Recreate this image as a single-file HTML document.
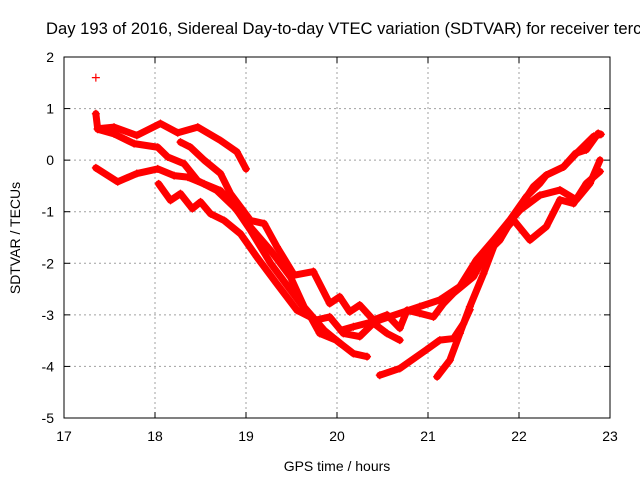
<!DOCTYPE html>
<html><head><meta charset="utf-8">
<style>
body{margin:0;background:#fff;overflow:hidden;}
svg{display:block;font-family:"Liberation Sans",sans-serif;}
</style></head>
<body>
<svg id="chart" width="640" height="480" viewBox="0 0 640 480">
<text x="46" y="34" font-size="16.6" fill="#000">Day 193 of 2016, Sidereal Day-to-day VTEC variation (SDTVAR) for receiver terc</text>
<g id="grid"></g>
<g id="axes"></g>
<g id="series"></g>
<text x="337" y="471" font-size="14" text-anchor="middle">GPS time / hours</text>
<text transform="translate(20,238) rotate(-90)" font-size="14" text-anchor="middle">SDTVAR / TECUs</text>
</svg>
<script>
const xTicks=[17,18,19,20,21,22,23];
const yTicks=[2,1,0,-1,-2,-3,-4,-5];
const outlier=[[17.35,1.6]];
const seriesA=[[17.35,0.9],[17.37,0.61],[17.55,0.64],[17.8,0.48],[18.06,0.71],[18.25,0.53],[18.47,0.64],[18.72,0.38],[18.9,0.16],[19.0,-0.17]];
const seriesB=[[17.37,0.6],[17.55,0.51],[17.77,0.32],[18.03,0.25],[18.14,0.06],[18.32,-0.07],[18.47,-0.4],[18.68,-0.59],[18.87,-0.91],[19.05,-1.3],[19.27,-1.75],[19.49,-2.27],[19.64,-2.85],[19.86,-3.3],[20.04,-3.56]];
const seriesC=[[17.35,-0.15],[17.59,-0.42],[17.8,-0.26],[18.03,-0.17],[18.21,-0.3],[18.36,-0.33],[18.54,-0.46],[18.72,-0.59],[18.9,-0.97],[19.05,-1.36],[19.27,-2.0],[19.49,-2.52],[19.71,-3.04],[19.81,-3.36],[19.99,-3.49],[20.18,-3.75],[20.33,-3.81]];
const seriesD=[[18.04,-0.46],[18.17,-0.78],[18.28,-0.65],[18.41,-0.94],[18.5,-0.81],[18.61,-1.04],[18.76,-1.17],[18.94,-1.43],[19.12,-1.88],[19.34,-2.4],[19.56,-2.91],[19.77,-3.1],[19.92,-3.04],[20.07,-3.36],[20.25,-3.42],[20.4,-3.16],[20.55,-3.36],[20.69,-3.49]];
const seriesE=[[18.28,0.35],[18.39,0.25],[18.54,0.0],[18.72,-0.26],[18.83,-0.65],[19.05,-1.17],[19.2,-1.23],[19.34,-1.68],[19.53,-2.23],[19.74,-2.16],[19.92,-2.78],[20.03,-2.65],[20.14,-2.94],[20.25,-2.81],[20.4,-3.1],[20.55,-3.0],[20.69,-3.26],[20.77,-2.91],[20.91,-2.97],[21.06,-3.04],[21.17,-2.78],[21.28,-2.58],[21.5,-2.26],[21.64,-1.81],[21.79,-1.55],[21.94,-1.1],[22.16,-0.51],[22.3,-0.29],[22.49,-0.13],[22.63,0.13],[22.82,0.46],[22.9,0.5]];
const seriesF=[[20.47,-4.17],[20.69,-4.04],[20.98,-3.68],[21.13,-3.49],[21.28,-3.46],[21.39,-3.17],[21.46,-2.9]];
const seriesG=[[21.1,-4.2],[21.24,-3.88],[21.35,-3.36],[21.46,-2.84],[21.61,-2.2],[21.75,-1.55],[21.94,-1.16],[22.12,-1.55],[22.3,-1.29],[22.45,-0.77],[22.6,-0.84],[22.74,-0.45],[22.89,-0.22]];
const seriesH=[[20.04,-3.3],[20.18,-3.23],[20.47,-3.1],[20.91,-2.84],[21.13,-2.71],[21.35,-2.45],[21.53,-1.94],[21.72,-1.55],[21.9,-1.16],[22.08,-0.71],[22.23,-0.45],[22.3,-0.29],[22.49,-0.13],[22.62,0.13],[22.74,0.2],[22.87,0.52]];
const seriesI=[[21.79,-1.42],[22.01,-0.97],[22.23,-0.68],[22.45,-0.58],[22.63,-0.77],[22.78,-0.45],[22.89,0.0]];
const allSeries=[seriesA,seriesB,seriesC,seriesD,seriesE,seriesF,seriesG,seriesH,seriesI];

const NS="http://www.w3.org/2000/svg";
const X0=64,X1=610,Y0=418,Y1=57;
const sx=v=>X0+(v-17)/6*(X1-X0);
const sy=v=>Y0-(v+5)/7*(Y0-Y1);
function mk(tag,attrs,parent){const e=document.createElementNS(NS,tag);for(const k in attrs)e.setAttribute(k,attrs[k]);parent.appendChild(e);return e;}
const grid=document.getElementById('grid'),axes=document.getElementById('axes'),ser=document.getElementById('series');
xTicks.forEach(t=>{
  if(t>17&&t<23){const l=mk('line',{x1:sx(t),x2:sx(t),y1:Y1,y2:Y0,stroke:'#a0a0a0','stroke-dasharray':'2,3'},grid);
  
  }
  const tx=mk('text',{x:sx(t),y:Y0+23,'font-size':14,'text-anchor':'middle'},axes);tx.textContent=t;
  
  
  mk('line',{x1:sx(t),x2:sx(t),y1:Y0,y2:Y0-6,stroke:'#000'},axes);
  mk('line',{x1:sx(t),x2:sx(t),y1:Y1,y2:Y1+6,stroke:'#000'},axes);
});
yTicks.forEach(t=>{
  if(t<2&&t>-5){const l=mk('line',{x1:X0,x2:X1,y1:sy(t),y2:sy(t),stroke:'#a0a0a0','stroke-dasharray':'2,3'},grid);
  
  }
  const tx=mk('text',{x:X0-10,y:sy(t)+5,'font-size':14,'text-anchor':'end'},axes);tx.textContent=t;
  
  
  mk('line',{x1:X0,x2:X0+6,y1:sy(t),y2:sy(t),stroke:'#000'},axes);
  mk('line',{x1:X1,x2:X1-6,y1:sy(t),y2:sy(t),stroke:'#000'},axes);
});
const fr=mk('rect',{x:X0,y:Y1,width:X1-X0,height:Y0-Y1,fill:'none',stroke:'#000'},axes);


function plus(x,y,g){mk('path',{d:`M${x-4},${y}h8M${x},${y-4}v8`,stroke:'#f00','stroke-width':1.2},g);}
allSeries.forEach((s,i)=>{
  const g=mk('g',{},ser);
  
  
  mk('polyline',{points:s.map(p=>sx(p[0])+','+sy(p[1])).join(' '),fill:'none',stroke:'#f00','stroke-width':7,'stroke-linejoin':'round','stroke-linecap':'round'},g);
  s.forEach(p=>plus(sx(p[0]),sy(p[1]),g));
});
const og=mk('g',{},ser);


outlier.forEach(p=>plus(sx(p[0]),sy(p[1]),og));
</script>
</body></html>
